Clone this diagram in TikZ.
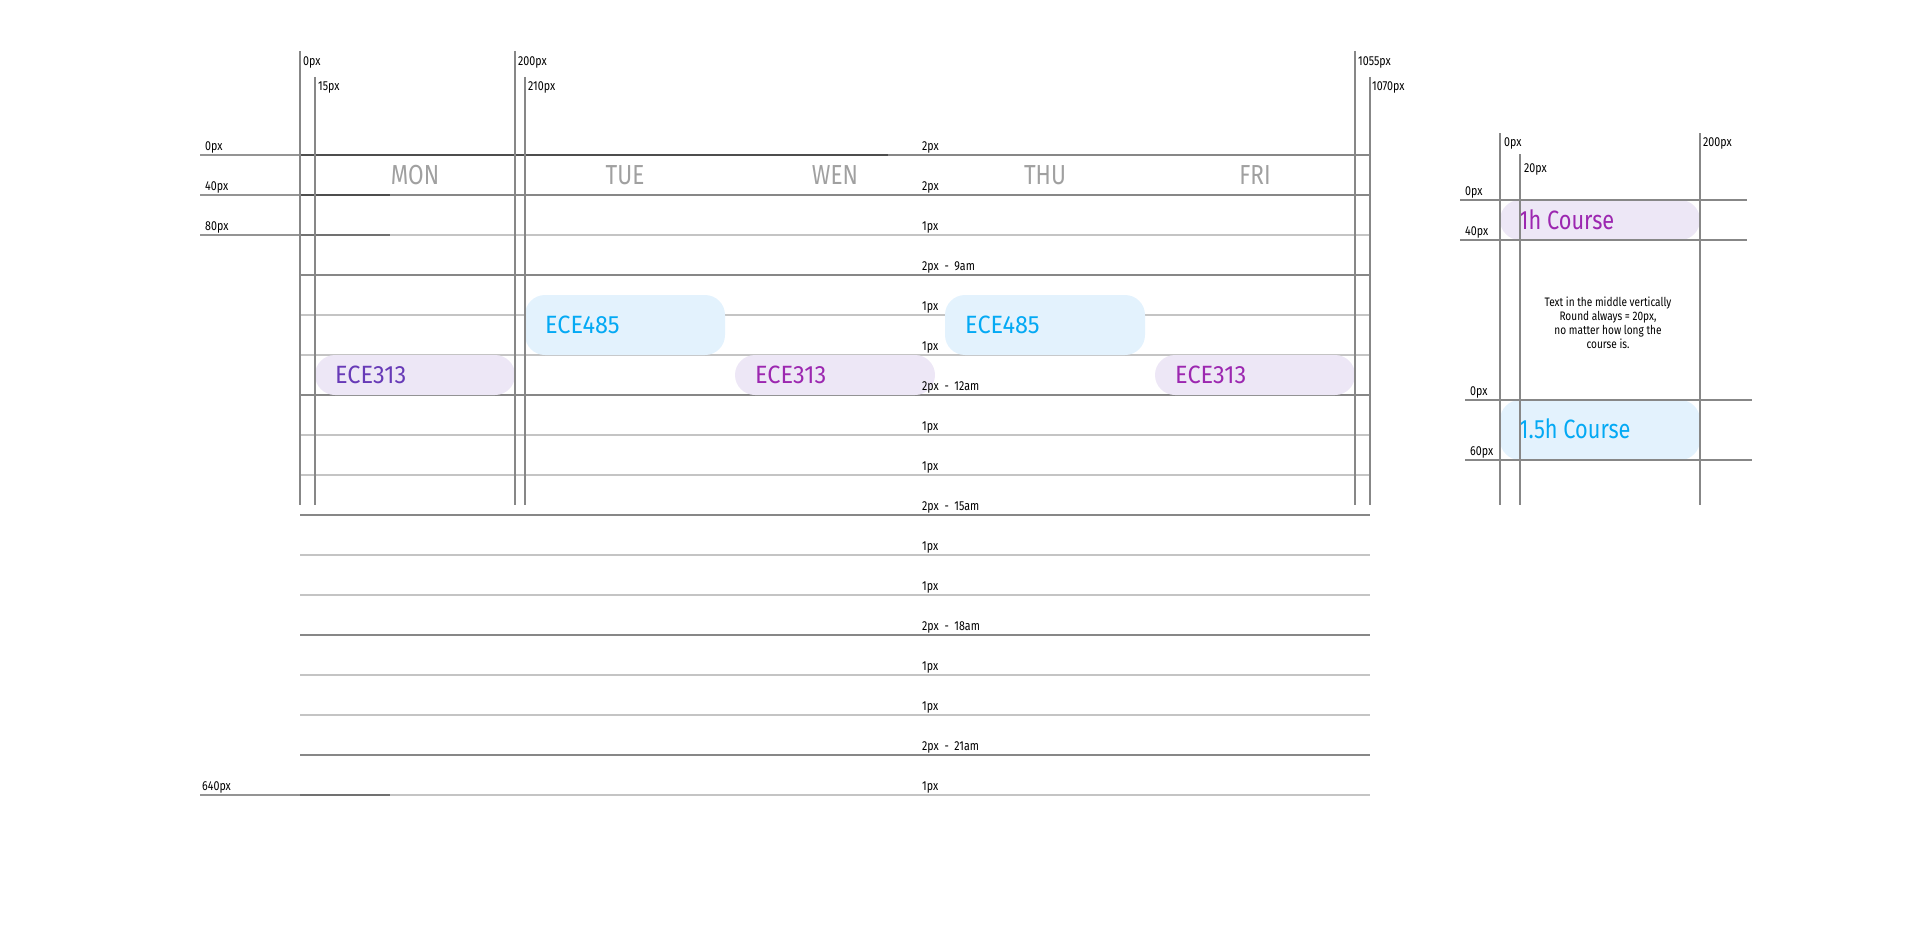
\documentclass[tikz,border=0pt]{standalone}
\usepackage{fontspec}
\setmainfont[FakeStretch=0.82]{Fira Sans}
\newfontfamily\coursefont[FakeStretch=0.94]{Fira Sans}
\definecolor{majorgray}{HTML}{878787}
\definecolor{minorgray}{HTML}{C4C4C4}
\definecolor{daygray}{HTML}{A0A0A0}
\definecolor{lavender}{HTML}{EDE7F6}
\definecolor{skyfill}{HTML}{E3F2FD}
\definecolor{deeppurple}{HTML}{673AB7}
\definecolor{coursepurple}{HTML}{9C27B0}
\definecolor{courseblue}{HTML}{03A9F4}
\tikzset{
  majorline/.style={draw=majorgray,line width=2pt},
  minorline/.style={draw=minorgray,line width=1.5pt},
  ruler/.style={draw=black,draw opacity=0.42,line width=2pt},
  pxlabel/.style={inner sep=0pt,anchor=base west,font=\fontsize{13}{14}\selectfont},
  daylabel/.style={inner sep=0pt,anchor=base,text=daygray,font=\fontsize{27.5}{30}\selectfont},
  coursename/.style={inner sep=0pt,anchor=base west,font=\coursefont\fontsize{25}{30}\selectfont},
  pill/.style={rounded corners=20pt},
}
\begin{document}
\begin{tikzpicture}[x=1pt,y=-1pt,line cap=butt]
	\useasboundingbox (0,0) rectangle (1920,950);
	% rows, 40px each
	\foreach \k/\sty in {0/majorline,1/majorline,2/minorline,3/majorline,4/minorline,5/minorline,6/majorline,7/minorline,8/minorline,9/majorline,10/minorline,11/minorline,12/majorline,13/minorline,14/minorline,15/majorline,16/minorline}
		\draw[\sty] (300,155+40*\k)--(1370,155+40*\k);
	\draw[ruler] (200,155)--(888,155);
	\draw[ruler] (200,195)--(390,195);
	\draw[ruler] (200,235)--(390,235);
	\draw[ruler] (200,795)--(390,795);
	% courses
	\fill[lavender,pill] (315,355) rectangle (515,395);
	\fill[skyfill,pill] (525,295) rectangle (725,355);
	\fill[lavender,pill] (735,355) rectangle (935,395);
	\fill[skyfill,pill] (945,295) rectangle (1145,355);
	\fill[lavender,pill] (1155,355) rectangle (1355,395);
	\fill[lavender,pill] (1500,200) rectangle (1700,240);
	\fill[skyfill,pill] (1500,400) rectangle (1700,460);
	\node[coursename,text=deeppurple] (mon313) at (335,383.5) {ECE313};
	\node[coursename,text=courseblue] (tue485) at (545,333.5) {ECE485};
	\node[coursename,text=coursepurple] (wen313) at (755,383.5) {ECE313};
	\node[coursename,text=courseblue] (thu485) at (965,333.5) {ECE485};
	\node[coursename,text=coursepurple] (fri313) at (1175,383.5) {ECE313};
	\node[coursename,text=coursepurple,font=\fontsize{26.5}{30}\selectfont] (onehour) at (1519,229.5) {1h Course};
	\node[coursename,text=courseblue,font=\fontsize{26.5}{30}\selectfont] (halfhour) at (1519,438.5) {1.5h Course};
	% columns
	\draw[majorline] (300,51)--(300,505);
	\draw[majorline] (315,77)--(315,505);
	\draw[majorline] (515,51)--(515,505);
	\draw[majorline] (525,77)--(525,505);
	\draw[majorline] (1355,51)--(1355,505);
	\draw[majorline] (1370,77)--(1370,505);
	\draw[majorline] (1500,133)--(1500,505);
	\draw[majorline] (1520,154)--(1520,505);
	\draw[majorline] (1700,133)--(1700,505);
	\draw[majorline] (1460,200)--(1747,200);
	\draw[majorline] (1460,240)--(1747,240);
	\draw[majorline] (1465,400)--(1752,400);
	\draw[majorline] (1465,460)--(1752,460);
	% days
	\node[daylabel] (mon) at (415,184.5) {MON};
	\node[daylabel] (tue) at (625,184.5) {TUE};
	\node[daylabel] (wen) at (835,184.5) {WEN};
	\node[daylabel] (thu) at (1045,184.5) {THU};
	\node[daylabel] (fri) at (1255,184.5) {FRI};
	% sizes
	\foreach \k/\txt in {0/2px,1/2px,2/1px,3/{2px~~-~~9am},4/1px,5/1px,6/{2px~~-~~12am},7/1px,8/1px,9/{2px~~-~~15am},10/1px,11/1px,12/{2px~~-~~18am},13/1px,14/1px,15/{2px~~-~~21am},16/1px}
		\node[pxlabel] (row\k) at (922,150+40*\k) {\txt};
	\node[pxlabel] (x0) at (303,65.5) {0px};
	\node[pxlabel] (x15) at (318,91) {15px};
	\node[pxlabel] (x200) at (518,65.5) {200px};
	\node[pxlabel] (x210) at (528,91) {210px};
	\node[pxlabel] (x1055) at (1358,65.5) {1055px};
	\node[pxlabel] (x1070) at (1372,91) {1070px};
	\node[pxlabel] (y0) at (205,150) {0px};
	\node[pxlabel] (y40) at (205,190) {40px};
	\node[pxlabel] (y80) at (205,230) {80px};
	\node[pxlabel] (y640) at (202,790) {640px};
	\node[pxlabel] (px0) at (1504,146.5) {0px};
	\node[pxlabel] (px20) at (1524,172) {20px};
	\node[pxlabel] (px200) at (1703,146.5) {200px};
	\node[pxlabel] (py0) at (1465,195) {0px};
	\node[pxlabel] (py40) at (1465,235) {40px};
	\node[pxlabel] (pz0) at (1470,395) {0px};
	\node[pxlabel] (pz60) at (1470,455) {60px};
	\node[align=center,inner sep=0pt,font=\fontsize{12.3}{14}\selectfont] (note) at (1608,323) {Text in the middle vertically\\Round always = 20px,\\no matter how long the\\course is.};
\end{tikzpicture}
\end{document}
